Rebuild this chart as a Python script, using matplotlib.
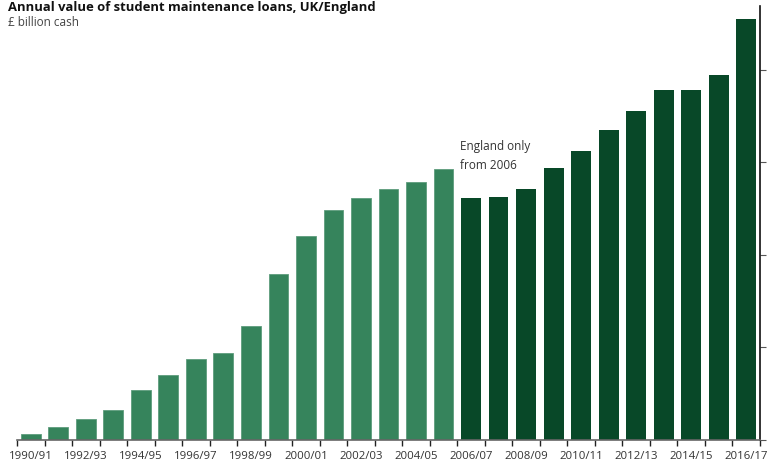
import matplotlib.pyplot as plt
import numpy as np

plt.rcParams['font.family'] = ['Open Sans', 'DejaVu Sans']

years = ['1990/91', '1991/92', '1992/93', '1993/94', '1994/95', '1995/96', '1996/97',
         '1997/98', '1998/99', '1999/00', '2000/01', '2001/02', '2002/03', '2003/04',
         '2004/05', '2005/06', '2006/07', '2007/08', '2008/09', '2009/10', '2010/11',
         '2011/12', '2012/13', '2013/14', '2014/15', '2015/16', '2016/17']
uk_loans = [0.07, 0.14, 0.23, 0.32, 0.54, 0.70, 0.88, 0.94, 1.23, 1.79, 2.20, 2.49,
            2.62, 2.71, 2.79, 2.93]
england_loans = [2.62, 2.63, 2.71, 2.94, 3.12, 3.35, 3.56, 3.78, 3.78, 3.94, 4.55]

light = '#36845c'
dark = '#084828'

fig = plt.figure(figsize=(7.73, 4.61), dpi=100)
ax = fig.add_axes([17 / 773, 21 / 461, 743 / 773, 434 / 461])

x_uk = np.arange(len(uk_loans))
x_en = np.arange(len(uk_loans), len(years))
ax.bar(x_uk, uk_loans, width=0.72, color=light, edgecolor='#5e9c7c', linewidth=0.6)
ax.bar(x_en, england_loans, width=0.72, color=dark, linewidth=0)

ax.set_xlim(-0.5, len(years) - 0.5)
ax.set_ylim(0, 4.69)

ax.set_xticks(np.arange(0, len(years), 2))
ax.set_xticklabels(years[::2], fontsize=8.2, color='#333333')
ax.set_xticks(np.arange(-0.5, len(years), 1), minor=True)
ax.tick_params(axis='x', which='major', length=0, pad=8)
ax.tick_params(axis='x', which='minor', length=4, width=1, color='#222222')

# value labels sit beyond the right edge of the picture in the original
ax.yaxis.tick_right()
ax.set_yticks([0, 1, 2, 3, 4])
ax.set_yticklabels([])
ax.tick_params(axis='y', length=4, width=0.8, color='#555555')

for s in ['top', 'left']:
    ax.spines[s].set_visible(False)
ax.spines['bottom'].set_color('#666666')
ax.spines['bottom'].set_linewidth(1.2)
ax.spines['right'].set_color('#111111')
ax.spines['right'].set_linewidth(1.2)

ax.text(15.6, 2.9, 'England only\nfrom 2006', fontsize=8.5, color='#333333',
        linespacing=1.55, va='bottom', ha='left')

fig.text(8 / 773, 1 - 1 / 461, 'Annual value of student maintenance loans, UK/England',
         fontsize=9.4, fontweight='bold', color='#111111', va='top', ha='left')
fig.text(8 / 773, 1 - 23 / 461, '£ billion cash', fontsize=8.5, color='#444444',
         va='center', ha='left')

fig.savefig('out.png', dpi=100)
